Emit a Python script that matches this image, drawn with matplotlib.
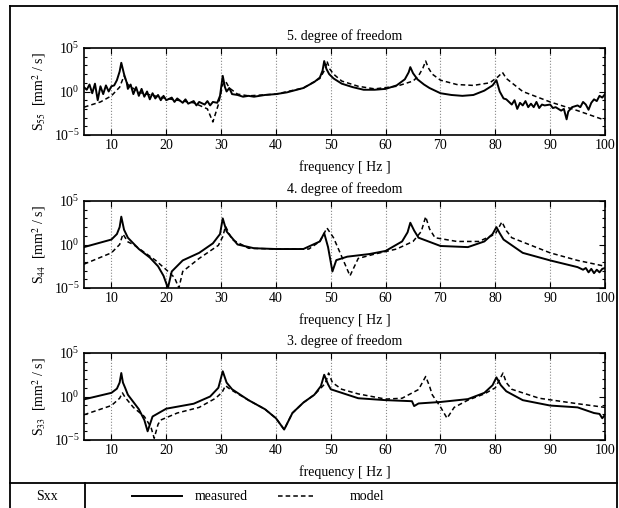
import numpy as np
import matplotlib
matplotlib.use('Agg')
import matplotlib.pyplot as plt
from matplotlib.lines import Line2D
from matplotlib.ticker import FixedLocator, NullFormatter

from matplotlib import rc
rc('font', **{'family': 'serif', 'serif': ['Liberation Serif'], 'size': 10})
rc('mathtext', **{'fontset': 'stix'})
rc(('xtick', 'ytick'), **{'labelsize': 10, 'direction': 'in', 'major.pad': 3})

# --- data: frequency [Hz], log10 of spectral density ---
f55_meas = [5, 5.5, 6, 6.5, 7, 7.5, 8, 8.5, 9, 9.5, 10, 10.5, 11, 11.5, 11.8, 12.3, 12.8, 13, 13.5, 14, 14.5,
            15, 15.5, 16, 16.5, 17, 17.5, 18, 18.5, 19, 19.5, 20, 21, 21.5, 22, 23, 23.5, 24, 25, 25.5,
            26, 27, 27.5, 28, 28.5, 29.3, 29.8, 30.3, 30.7, 31, 31.5, 32, 33, 34, 35, 36, 38, 40, 42,
            45, 47, 48, 48.5, 48.8, 49.2, 49.7, 50.5, 52, 54, 56, 58, 60, 62, 63.5, 64.2, 64.5, 65, 65.8,
            67, 68, 70, 72, 74, 76, 78, 79.5, 80.2, 80.8, 81.5, 82, 83, 83.5, 84, 84.5, 85, 85.5, 86,
            86.5, 87, 87.5, 88, 88.5, 89, 90, 90.5, 91, 92, 92.5, 93, 93.3, 94, 95, 95.5, 96, 96.5, 97,
            97.5, 98, 98.5, 99, 99.5, 100]
s55_meas = [0.5, 0.2, 0.8, -0.2, 0.9, -1.0, 0.6, -0.3, 0.7, 0.0, 0.6, 0.7, 1.3, 2.3, 3.3, 2.0, 1.0, 0.3, 0.8, -0.3, 0.5,
            -0.5, 0.3, -0.6, 0.0, -0.9, -0.2, -0.8, -0.4, -1.0, -0.5, -1.0, -0.7, -1.2, -0.8, -1.3, -0.9, -1.4, -1.1, -1.6,
            -1.2, -1.5, -1.1, -1.6, -1.2, -1.3, -0.5, 1.8, 0.5, 0.0, 0.4, -0.3, -0.4, -0.6, -0.5, -0.6, -0.4, -0.3, -0.1,
            0.4, 1.1, 1.6, 2.4, 3.5, 2.6, 2.0, 1.5, 0.9, 0.5, 0.2, 0.2, 0.3, 0.7, 1.4, 2.2, 2.8, 2.1, 1.4,
            0.8, 0.4, -0.2, -0.4, -0.5, -0.4, 0.1, 0.7, 1.3, 0.0, -0.8, -0.9, -1.5, -1.0, -2.0, -1.3, -1.6, -1.1, -1.8,
            -1.4, -1.8, -1.2, -1.9, -1.5, -1.6, -1.5, -1.9, -1.8, -2.2, -2.0, -3.2, -2.3, -1.8, -1.6, -1.8, -1.2, -1.5, -2.1,
            -1.3, -0.9, -1.1, -0.5, -0.7, -0.3]
f55_model = [5, 8, 10, 11.5, 12.3, 13, 15, 20, 25, 27.5, 28.5, 29.5, 30.3, 30.8, 31.5, 33, 35, 40, 45, 48,
             49, 49.3, 49.8, 50.5, 52, 55, 58, 62, 65, 66, 66.8, 67.3, 67.8, 68.5, 70, 73, 76, 79, 80.5,
             81.3, 82, 85, 90, 95, 100]
s55_model = [-1.8, -1.2, -0.5, 0.5, 1.8, 0.8, -0.1, -0.8, -1.3, -2.0, -3.5, -1.5, 0.8, 1.2, 0.4, -0.3, -0.5, -0.3, 0.4, 1.5,
             2.6, 3.5, 2.6, 2.0, 1.2, 0.6, 0.3, 0.6, 1.2, 1.8, 2.7, 3.5, 2.7, 2.0, 1.3, 0.8, 0.7, 1.0, 1.7,
             2.2, 1.5, 0.0, -1.2, -2.2, -3.3]

f44_meas = [5, 10, 11, 11.5, 11.8, 12.3, 13, 15, 17, 18.5, 19.5, 20.3, 21, 23, 26, 28.5, 29.8, 30.3, 31, 33,
            36, 40, 45, 48, 48.8, 49.5, 50.3, 51, 53, 57, 60, 63, 64, 64.5, 65.2, 66, 70, 75, 78, 79.5,
            80.2, 80.8, 81.5, 85, 90, 95, 96, 96.5, 97, 97.5, 98, 98.5, 99, 99.5, 100]
s44_meas = [-0.3, 0.57, 1.2, 2.0, 3.2, 1.7, 0.78, -0.52, -1.5, -2.5, -3.6, -5.0, -3.1, -1.83, -0.96, 0.13, 1.2, 3.0, 1.5, 0.0,
            -0.43, -0.52, -0.52, 0.35, 1.3, -0.3, -3.1, -1.8, -1.4, -1.1, -0.74, 0.35, 1.4, 2.5, 1.6, 0.78, -0.17, -0.3, 0.35, 1.2,
            2.0, 1.3, 0.57, -0.96, -1.83, -2.6, -2.9, -2.7, -3.2, -2.8, -3.3, -2.9, -3.2, -2.8, -2.7]
f44_model = [5, 10, 11.5, 12.1, 13, 14, 16, 18, 20, 21.5, 22.3, 23, 26, 29.5, 30.3, 30.8, 31.5, 32, 35, 40,
             46, 48, 49.3, 50.5, 52, 53.5, 55, 58, 62, 65, 66.5, 67.3, 68, 69, 73, 77, 80, 81.2, 82, 83,
             90, 95, 100]
s44_model = [-2.26, -0.96, 0.0, 1.2, 0.3, 0.0, -0.9, -1.8, -2.9, -3.8, -5.0, -3.1, -1.6, -0.1, 0.9, 2.1, 1.2, 0.57, -0.43, -0.52,
             -0.52, 0.35, 1.9, 0.78, -1.4, -3.6, -1.6, -1.1, -0.52, 0.35, 1.5, 3.2, 1.8, 0.78, 0.35, 0.35, 1.2, 2.6, 1.6, 0.78,
             -0.96, -1.83, -2.5]

f33_meas = [5, 10, 11, 11.5, 11.8, 12.1, 12.5, 13, 15, 16, 16.6, 17.5, 20, 25, 28, 29.5, 30.3, 31, 32, 35,
            38, 40, 41.5, 43, 45, 47, 48.2, 48.8, 49.5, 50, 55, 60, 64.8, 65.2, 66, 70, 75, 78, 79.5, 80.2,
            81, 82, 85, 90, 95, 98, 99, 99.5, 100]
s33_meas = [-0.33, 0.42, 0.9, 1.6, 2.7, 1.6, 1.0, 0.2, -1.46, -2.7, -4.0, -2.3, -1.4, -0.83, 0.0, 1.0, 2.9, 1.6, 0.83, -0.42,
            -1.46, -2.5, -3.8, -1.9, -0.7, 0.2, 1.2, 2.5, 1.4, 0.83, -0.2, -0.42, -0.54, -1.1, -0.8, -0.63, -0.3, 0.42, 1.3, 2.2,
            1.3, 0.6, -0.42, -1.04, -1.25, -1.9, -2.0, -2.5, -2.1]
f33_model = [5, 10, 11.5, 12, 12.5, 14, 16, 17.2, 17.8, 18.5, 19, 22, 26, 29, 30.2, 30.8, 31.5, 32, 35, 38,
             40, 41.5, 43, 45, 47, 49, 49.6, 50.3, 52, 55, 60, 63, 66, 67.3, 68, 68.5, 70, 71.2, 72.5, 75,
             78, 80, 81.4, 82, 83, 88, 95, 100]
s33_model = [-2.1, -1.04, -0.2, 0.42, -0.1, -1.25, -2.3, -3.5, -4.8, -3.2, -2.7, -1.9, -1.25, -0.2, 0.5, 1.25, 0.9, 0.7, -0.42, -1.46,
             -2.5, -3.8, -1.9, -0.7, 0.2, 1.5, 2.7, 1.6, 0.83, 0.3, -0.3, -0.2, 0.8, 2.3, 1.2, 0.2, -1.2, -2.5, -1.25, -0.42,
             0.3, 1.0, 2.7, 1.6, 0.83, -0.2, -0.83, -1.25]

panels = [
    ('5. degree of freedom', r'S$_{55}$  [mm$^2$ / s]', f55_meas, s55_meas, f55_model, s55_model),
    ('4. degree of freedom', r'S$_{44}$  [mm$^2$ / s]', f44_meas, s44_meas, f44_model, s44_model),
    ('3. degree of freedom', r'S$_{33}$  [mm$^2$ / s]', f33_meas, s33_meas, f33_model, s33_model),
]

W, H = 619, 508
fig = plt.figure(figsize=(W / 100, H / 100), dpi=100)

ax_left, ax_right = 84, 605
ax_tops = [48, 201, 353]
ax_h = 87

for (title, ylab, fm, sm, fmod, smod), top in zip(panels, ax_tops):
    ax = fig.add_axes([ax_left / W, (H - top - ax_h) / H, (ax_right - ax_left) / W, ax_h / H])
    ax.plot(fm, 10 ** np.array(sm), '-', color='black', lw=1.4)
    ax.plot(fmod, 10 ** np.array(smod), '--', color='black', lw=1.1, dashes=(3, 2))
    ax.set_yscale('log')
    ax.set_xlim(5, 100)
    ax.set_ylim(1e-5, 1e5)
    ax.yaxis.set_major_locator(FixedLocator([1e-5, 1e0, 1e5]))
    ax.yaxis.set_minor_locator(FixedLocator([10.0 ** k for k in range(-5, 6)]))
    ax.yaxis.set_minor_formatter(NullFormatter())
    ax.set_xticks(np.arange(10, 101, 10))
    ax.tick_params(which='both', top=True, right=True, direction='in')
    ax.tick_params(which='major', length=4, width=0.8)
    ax.tick_params(which='minor', length=2.5, width=0.8)
    ax.xaxis.grid(True, linestyle=':', color='#888888', lw=0.8)
    for s in ax.spines.values():
        s.set_linewidth(1.2)
    ax.set_title(title, fontsize=10, pad=6)
    ax.set_xlabel('frequency [ Hz ]', fontsize=10, labelpad=6)
    ax.set_ylabel(ylab, fontsize=10, labelpad=4)

# outer frame and bottom legend row
def fline(x0, y0, x1, y1, lw=1.3):
    fig.add_artist(Line2D([x0 / W, x1 / W], [1 - y0 / H, 1 - y1 / H], color='black', lw=lw))

fline(10, 6, 617, 6)
fline(10, 6, 10, 508)
fline(617, 6, 617, 508)
fline(10, 483, 617, 483)
fline(85, 483, 85, 508)

fig.text(47 / W, 1 - 497 / H, 'Sxx', ha='center', va='center', fontsize=10)
fig.add_artist(Line2D([132 / W, 182 / W], [1 - 496 / H] * 2, color='black', lw=1.4))
fig.text(195 / W, 1 - 497 / H, 'measured', ha='left', va='center', fontsize=10)
fig.add_artist(Line2D([278 / W, 313 / W], [1 - 496 / H] * 2, color='black', lw=1.1,
                      linestyle='--', dashes=(3, 2)))
fig.text(350 / W, 1 - 497 / H, 'model', ha='left', va='center', fontsize=10)

fig.savefig('out.png', dpi=100)
